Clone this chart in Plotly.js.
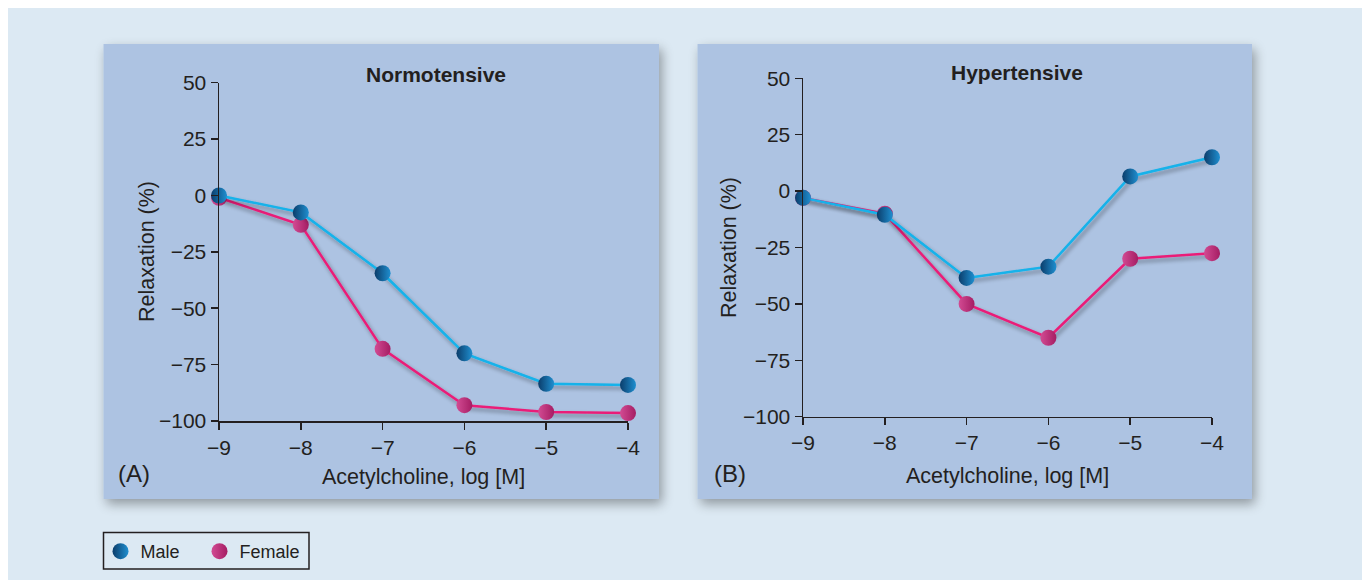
<!DOCTYPE html>
<html><head><meta charset="utf-8">
<script src="https://cdn.plot.ly/plotly-3.0.1.min.js"></script>
<style>html,body{margin:0;padding:0;background:#fff;}#chart{width:1362px;height:580px;}</style>
</head><body><div id="chart"></div>
<script>
// ---- data ----
const doses = [-9, -8, -7, -6, -5, -4];
const normMale = [0, -7.5, -34.5, -70, -83.5, -84];
const normFemale = [-1, -13, -68, -93, -96, -96.5];
const hyperMale = [-3, -10.5, -38.5, -33.5, 6.5, 15];
const hyperFemale = [-3, -10, -50, -65, -30, -27.5];
const seriesNames = ['Male', 'Female'];
const panelTitles = ['Normotensive', 'Hypertensive'];
const panelLabels = ['(A)', '(B)'];
const xTitle = 'Acetylcholine, log [M]';
const yTitle = 'Relaxation (%)';
const xTickVals = [-9, -8, -7, -6, -5, -4];
const yTickVals = [-100, -75, -50, -25, 0, 25, 50];

// ---- style ----
const W = 1362, H = 580;
const F = 'Liberation Sans, Arial, sans-serif';
const INK = '#231f20';
const px = x => x / W;
const py = y => 1 - y / H;
const maleStyle = {line: '#14b2ea', mc: '#0b3d6b', gc: '#1f8fd0'};
const femaleStyle = {line: '#ea1f78', mc: '#d24b93', gc: '#a51d63'};

function series(y, name, xa, ya, s, legend) {
  return {
    x: legend ? [null] : doses, y: legend ? [null] : y, xaxis: xa, yaxis: ya,
    mode: legend ? 'markers' : 'lines+markers', name: name,
    showlegend: !!legend, cliponaxis: false, hoverinfo: 'skip',
    line: {color: s.line, width: 2.5},
    marker: {size: 16, color: s.mc, gradient: {type: 'horizontal', color: s.gc}}
  };
}

const data = [
  series(normFemale, seriesNames[1], 'x', 'y', femaleStyle),
  series(normMale, seriesNames[0], 'x', 'y', maleStyle),
  series(hyperFemale, seriesNames[1], 'x2', 'y2', femaleStyle),
  series(hyperMale, seriesNames[0], 'x2', 'y2', maleStyle),
  series(null, seriesNames[0], 'x', 'y', maleStyle, true),
  series(null, seriesNames[1], 'x', 'y', femaleStyle, true)
];

const axisCommon = {
  showline: true, linecolor: INK, linewidth: 1.5, ticks: 'outside', ticklen: 7,
  tickwidth: 1.5, tickcolor: INK, showgrid: false, zeroline: false,
  tickfont: {size: 21, color: INK, family: F}, fixedrange: true
};
const xa = (d, anchor) => Object.assign({}, axisCommon, {domain: d, range: [-9, -4], tickvals: xTickVals, anchor: anchor});
const ya = (d, anchor) => Object.assign({}, axisCommon, {domain: d, range: [-100, 50], tickvals: yTickVals, anchor: anchor});

const panels = [
  {x0: 103.5, x1: 659, y0: 44, y1: 499, ax: [219, 628], ay: [82.7, 421], cx: 436, ty: 75, xt: 424, xty: 477, yt: 147, yty: 252, lx: 134},
  {x0: 697.5, x1: 1252, y0: 44, y1: 499, ax: [803, 1212], ay: [78.3, 416.7], cx: 1017, ty: 73, xt: 1007, xty: 476, yt: 729, yty: 248, lx: 730}
];

const shapes = [
  {type: 'rect', xref: 'paper', yref: 'paper', x0: px(8), x1: 1, y0: 0, y1: py(8), fillcolor: '#dce9f3', line: {width: 0}, layer: 'below'}
];
const annotations = [];
panels.forEach((p, i) => {
  shapes.push({type: 'rect', xref: 'paper', yref: 'paper', x0: px(p.x0), x1: px(p.x1), y0: py(p.y1), y1: py(p.y0),
    fillcolor: '#adc3e2', line: {width: 0}, layer: 'below'});
  annotations.push({xref: 'paper', yref: 'paper', x: px(p.cx), y: py(p.ty), text: '<b>' + panelTitles[i] + '</b>',
    showarrow: false, xanchor: 'center', yanchor: 'middle', font: {size: 21, color: INK, family: F}});
  annotations.push({xref: 'paper', yref: 'paper', x: px(p.xt), y: py(p.xty), text: xTitle,
    showarrow: false, xanchor: 'center', yanchor: 'middle', font: {size: 21.5, color: INK, family: F}});
  annotations.push({xref: 'paper', yref: 'paper', x: px(p.yt), y: py(p.yty), text: yTitle, textangle: -90,
    showarrow: false, xanchor: 'center', yanchor: 'middle', font: {size: 21.5, color: INK, family: F}});
  annotations.push({xref: 'paper', yref: 'paper', x: px(p.lx), y: py(473), text: panelLabels[i],
    showarrow: false, xanchor: 'center', yanchor: 'middle', font: {size: 24, color: INK, family: F}});
});
// legend frame
shapes.push({type: 'rect', xref: 'paper', yref: 'paper', x0: px(103.5), x1: px(309), y0: py(569), y1: py(532.5),
  fillcolor: 'rgba(0,0,0,0)', line: {color: INK, width: 1.5}, layer: 'above'});

const layout = {
  width: W, height: H, margin: {l: 0, r: 0, t: 0, b: 0},
  paper_bgcolor: '#ffffff', plot_bgcolor: 'rgba(0,0,0,0)',
  font: {family: F, color: INK},
  xaxis: xa([px(panels[0].ax[0]), px(panels[0].ax[1])], 'y'),
  yaxis: ya([py(panels[0].ay[1]), py(panels[0].ay[0])], 'x'),
  xaxis2: xa([px(panels[1].ax[0]), px(panels[1].ax[1])], 'y2'),
  yaxis2: ya([py(panels[1].ay[1]), py(panels[1].ay[0])], 'x2'),
  shapes: shapes, annotations: annotations,
  showlegend: true,
  legend: {orientation: 'h', x: px(100.5), y: py(533), xanchor: 'left', yanchor: 'top',
    borderwidth: 0, bgcolor: 'rgba(0,0,0,0)',
    font: {size: 18, color: INK, family: F}, entrywidth: 54, itemclick: false, itemdoubleclick: false}
};

Plotly.newPlot('chart', data, layout, {staticPlot: true, displayModeBar: false}).then(gd => {
  const ns = 'http://www.w3.org/2000/svg';
  const svg = gd.querySelector('svg.main-svg');
  let defs = svg.querySelector('defs');
  if (!defs) { defs = document.createElementNS(ns, 'defs'); svg.insertBefore(defs, svg.firstChild); }
  function mkFilter(id, dx, dy, blur, op) {
    const f = document.createElementNS(ns, 'filter');
    f.setAttribute('id', id);
    f.setAttribute('filterUnits', 'userSpaceOnUse');
    f.setAttribute('x', '-500'); f.setAttribute('y', '-500');
    f.setAttribute('width', '3000'); f.setAttribute('height', '2000');
    f.innerHTML = '<feGaussianBlur in="SourceAlpha" stdDeviation="' + blur + '"/>' +
      '<feOffset dx="' + dx + '" dy="' + dy + '" result="ob"/>' +
      '<feComponentTransfer><feFuncA type="linear" slope="' + op + '"/></feComponentTransfer>' +
      '<feMerge><feMergeNode/><feMergeNode in="SourceGraphic"/></feMerge>';
    defs.appendChild(f);
  }
  mkFilter('panelShadow', 3, 5, 6, 0.35);
  mkFilter('lineShadow', 2, 3, 2, 0.4);
  const sp = gd.querySelectorAll('.layer-below .shapelayer path');
  for (let i = 1; i < sp.length; i++) sp[i].setAttribute('filter', 'url(#panelShadow)');
  gd.querySelectorAll('.scatterlayer .trace path.js-line').forEach(p => p.setAttribute('filter', 'url(#lineShadow)'));
  // let the last legend label run past Plotly's fixed entry width
  gd.querySelectorAll('.legend, .legend .scrollbox').forEach(el => el.removeAttribute('clip-path'));
});
</script></body></html>
